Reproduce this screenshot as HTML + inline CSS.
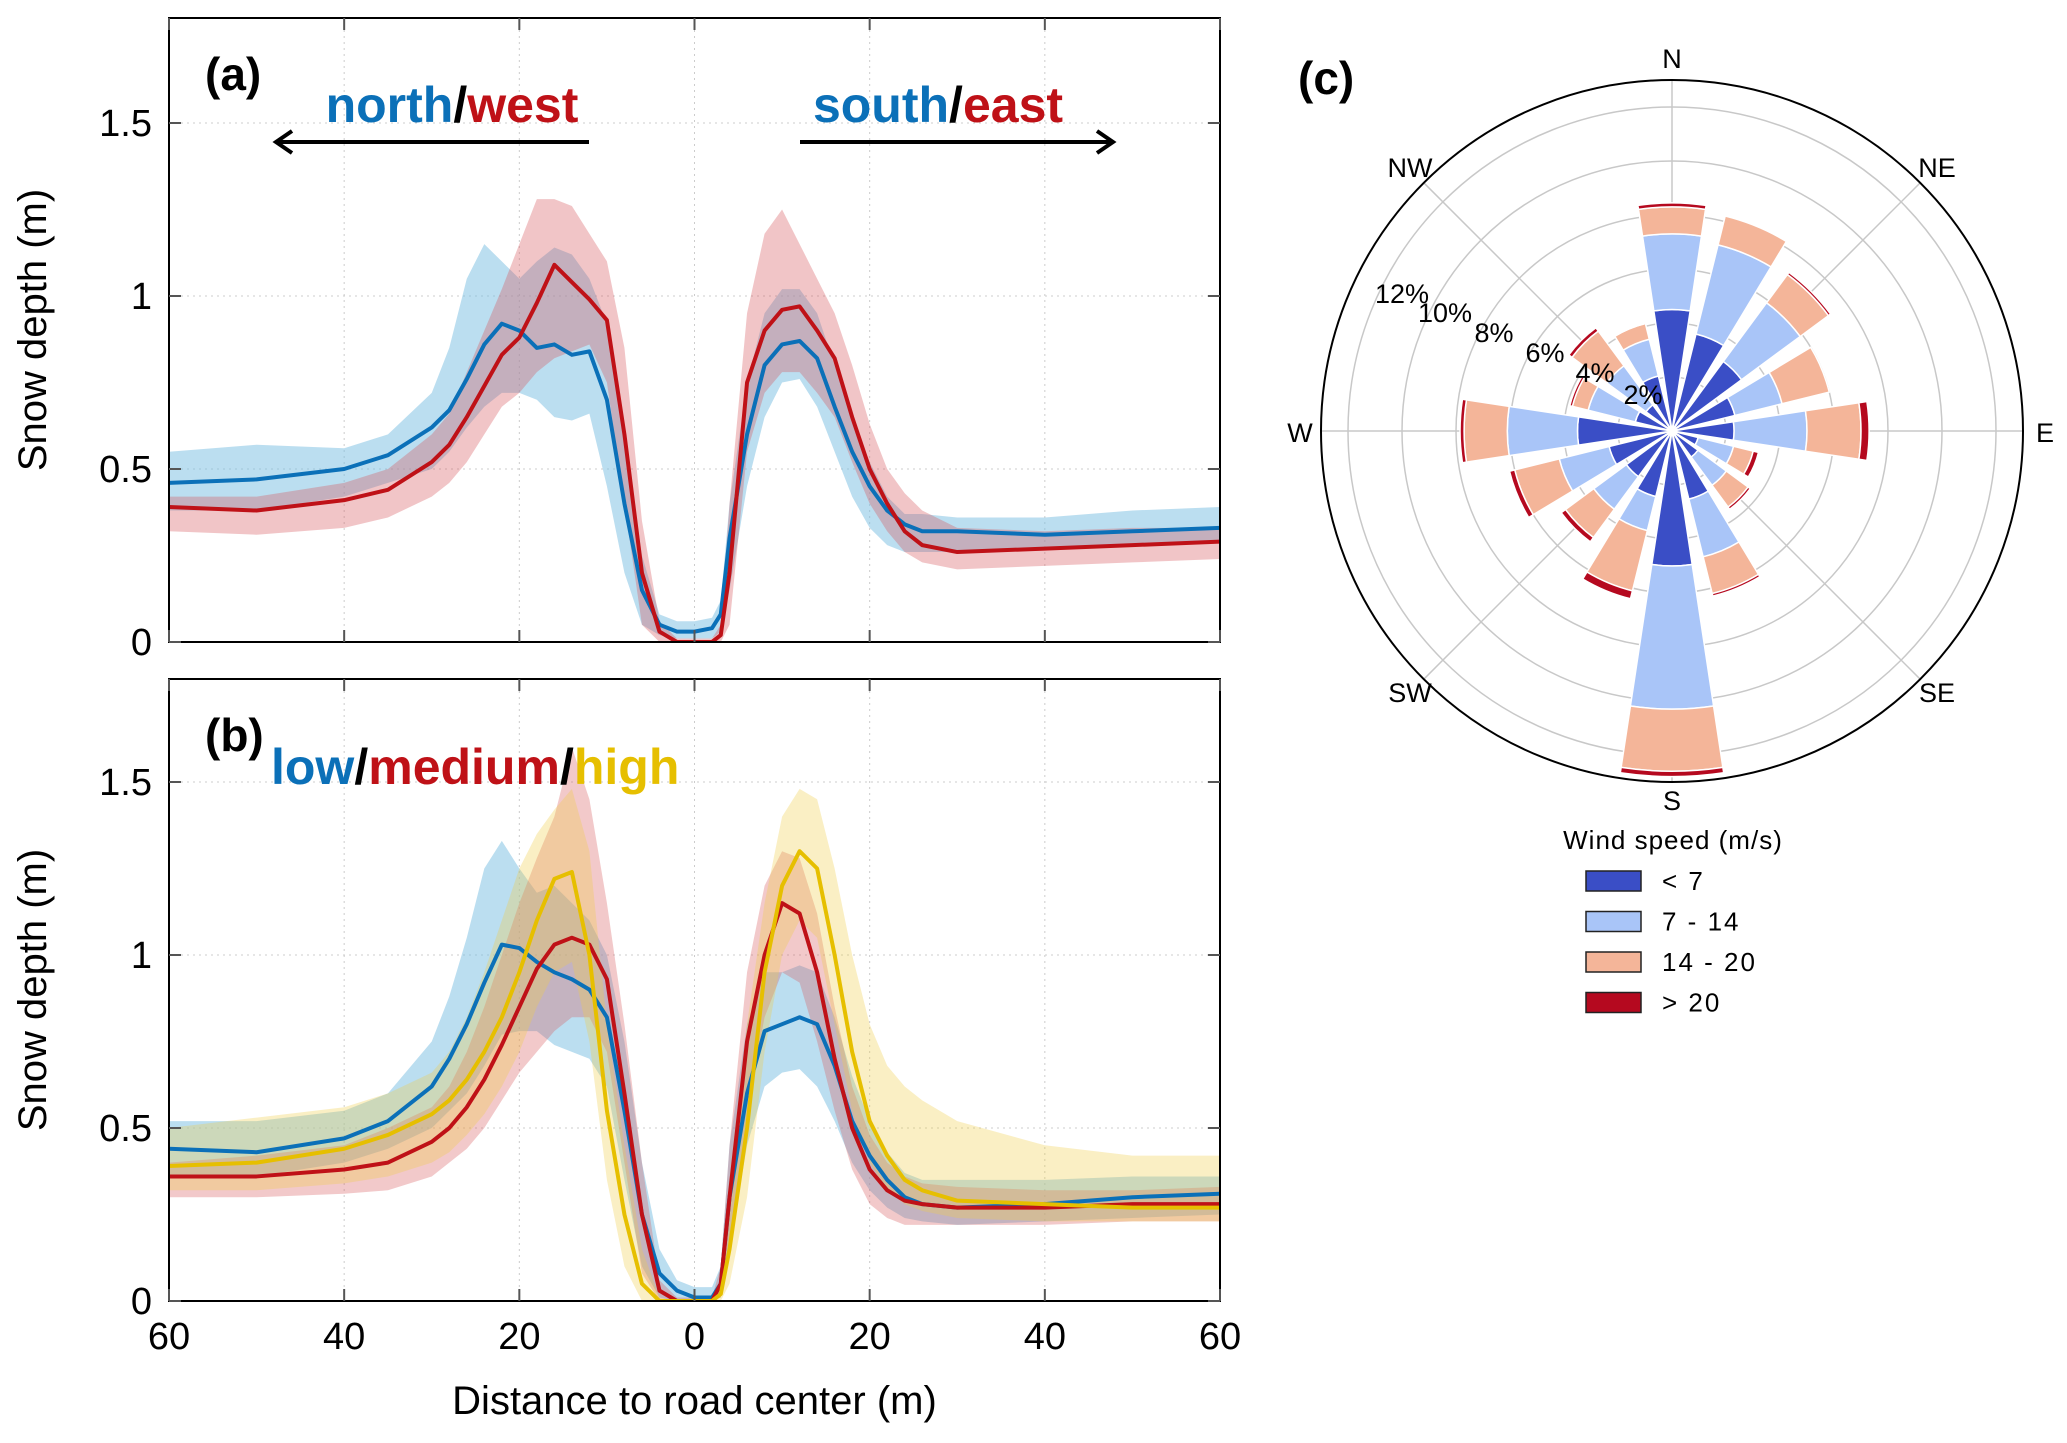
<!DOCTYPE html>
<html><head><meta charset="utf-8"><style>
html,body{margin:0;padding:0;background:#fff}
svg{display:block}
text{font-family:"Liberation Sans",sans-serif}
</style></head><body>
<svg id="fig" width="2067" height="1443" viewBox="0 0 2067 1443" xmlns="http://www.w3.org/2000/svg">
<g id="pa"></g>
<g id="pb"></g>
<g id="pc"></g>
</svg>
<script>
// ---------- Profile data ----------
const distX = [-60,-50,-40,-35,-30,-28,-26,-24,-22,-20,-18,-16,-14,-12,-10,-8,-6,-4,-2,0,2,3,4,6,8,10,12,14,16,18,20,22,24,26,30,40,50,60];
const yTicks = [0,0.5,1,1.5];
const yTickLabels = ["0","0.5","1","1.5"];
const xTicks = [-60,-40,-20,0,20,40,60];
const xTickLabels = ["60","40","20","0","20","40","60"];

const aBlueMean = [0.46,0.47,0.50,0.54,0.62,0.67,0.76,0.86,0.92,0.90,0.85,0.86,0.83,0.84,0.70,0.40,0.15,0.05,0.03,0.03,0.04,0.08,0.30,0.60,0.80,0.86,0.87,0.82,0.68,0.55,0.45,0.38,0.34,0.32,0.32,0.31,0.32,0.33];
const aBlueHi   = [0.55,0.57,0.56,0.60,0.72,0.85,1.05,1.15,1.10,1.05,1.10,1.14,1.12,1.05,0.92,0.60,0.25,0.08,0.06,0.06,0.07,0.12,0.40,0.75,0.95,1.02,1.02,0.95,0.80,0.65,0.52,0.42,0.37,0.37,0.36,0.36,0.38,0.39];
const aBlueLo   = [0.38,0.38,0.42,0.46,0.50,0.55,0.62,0.68,0.72,0.72,0.70,0.65,0.64,0.66,0.45,0.20,0.05,0.02,0.01,0.01,0.01,0.03,0.15,0.45,0.65,0.75,0.76,0.68,0.55,0.42,0.33,0.28,0.26,0.26,0.26,0.27,0.28,0.29];
const aRedMean  = [0.39,0.38,0.41,0.44,0.52,0.57,0.65,0.74,0.83,0.88,0.98,1.09,1.04,0.99,0.93,0.60,0.20,0.03,0.00,0.00,0.00,0.02,0.20,0.75,0.90,0.96,0.97,0.90,0.82,0.65,0.50,0.40,0.32,0.28,0.26,0.27,0.28,0.29];
const aRedHi    = [0.42,0.42,0.46,0.50,0.60,0.66,0.78,0.90,1.02,1.15,1.28,1.28,1.26,1.18,1.10,0.85,0.35,0.06,0.01,0.01,0.01,0.05,0.40,0.95,1.18,1.25,1.15,1.05,0.95,0.80,0.63,0.50,0.43,0.38,0.33,0.32,0.33,0.33];
const aRedLo    = [0.32,0.31,0.33,0.36,0.42,0.46,0.52,0.60,0.68,0.72,0.78,0.82,0.84,0.86,0.75,0.40,0.05,0.00,0.00,0.00,0.00,0.00,0.05,0.55,0.72,0.78,0.78,0.72,0.65,0.52,0.40,0.32,0.26,0.23,0.21,0.22,0.23,0.24];

const bLowMean  = [0.44,0.43,0.47,0.52,0.62,0.70,0.80,0.92,1.03,1.02,0.98,0.95,0.93,0.90,0.82,0.55,0.25,0.08,0.03,0.01,0.01,0.05,0.30,0.60,0.78,0.80,0.82,0.80,0.68,0.52,0.42,0.35,0.30,0.28,0.27,0.28,0.30,0.31];
const bLowHi    = [0.52,0.52,0.55,0.60,0.75,0.88,1.05,1.25,1.33,1.25,1.18,1.20,1.15,1.10,1.00,0.75,0.40,0.15,0.06,0.04,0.04,0.10,0.45,0.80,0.95,0.95,0.97,0.95,0.82,0.65,0.52,0.43,0.37,0.35,0.35,0.35,0.36,0.36];
const bLowLo    = [0.36,0.36,0.40,0.44,0.50,0.55,0.60,0.68,0.77,0.78,0.78,0.74,0.72,0.70,0.62,0.35,0.10,0.01,0.00,0.00,0.00,0.01,0.15,0.45,0.62,0.66,0.67,0.62,0.52,0.40,0.32,0.27,0.24,0.23,0.22,0.23,0.24,0.25];
const bMedMean  = [0.36,0.36,0.38,0.40,0.46,0.50,0.56,0.64,0.74,0.85,0.96,1.03,1.05,1.03,0.93,0.60,0.25,0.03,0.00,0.00,0.00,0.05,0.30,0.75,1.00,1.15,1.12,0.95,0.70,0.50,0.38,0.32,0.29,0.28,0.27,0.27,0.28,0.28];
const bMedHi    = [0.40,0.42,0.45,0.50,0.56,0.62,0.72,0.85,1.00,1.15,1.28,1.40,1.60,1.45,1.15,0.80,0.40,0.06,0.01,0.01,0.01,0.10,0.45,0.95,1.20,1.30,1.28,1.12,0.85,0.62,0.48,0.40,0.36,0.34,0.33,0.32,0.32,0.33];
const bMedLo    = [0.30,0.30,0.31,0.32,0.36,0.40,0.44,0.50,0.58,0.66,0.72,0.78,0.82,0.82,0.72,0.40,0.08,0.00,0.00,0.00,0.00,0.01,0.15,0.55,0.82,0.95,0.92,0.75,0.55,0.38,0.28,0.24,0.22,0.22,0.22,0.22,0.23,0.23];
const bHighMean = [0.39,0.40,0.44,0.48,0.54,0.58,0.64,0.72,0.82,0.95,1.10,1.22,1.24,1.00,0.55,0.25,0.05,0.00,0.00,0.00,0.00,0.02,0.15,0.50,0.95,1.20,1.30,1.25,1.00,0.72,0.52,0.42,0.35,0.32,0.29,0.28,0.27,0.27];
const bHighHi   = [0.50,0.53,0.56,0.60,0.66,0.72,0.82,0.95,1.10,1.25,1.35,1.42,1.48,1.30,0.80,0.45,0.15,0.01,0.00,0.00,0.00,0.05,0.35,0.80,1.15,1.40,1.48,1.45,1.25,1.00,0.80,0.68,0.62,0.58,0.52,0.45,0.42,0.42];
const bHighLo   = [0.32,0.32,0.34,0.36,0.40,0.43,0.48,0.54,0.62,0.72,0.85,0.95,0.98,0.75,0.35,0.10,0.00,0.00,0.00,0.00,0.00,0.00,0.05,0.30,0.72,1.00,1.10,1.05,0.80,0.55,0.40,0.32,0.28,0.26,0.24,0.23,0.23,0.23];

// ---------- Wind rose data ----------
const roseDirs = ["N","NNE","NE","ENE","E","ESE","SE","SSE","S","SSW","SW","WSW","W","WNW","NW","NNW"];
const binLt7   = [4.5,3.7,3.2,2.4,2.3,1.0,1.2,2.6,5.0,2.5,2.1,2.4,3.5,1.4,1.2,2.1];
const bin7to14 = [2.8,3.4,2.7,1.8,2.7,1.35,1.3,2.2,5.3,1.3,1.5,1.9,2.6,1.8,1.8,1.4];
const bin14to20= [1.0,1.1,1.3,1.8,2.0,0.75,1.0,1.4,2.3,2.3,1.3,1.7,1.6,0.6,1.6,0.6];
const binGt20  = [0.15,0,0.1,0,0.3,0.2,0.1,0.1,0.2,0.3,0.2,0.2,0.15,0.1,0.15,0.05];
const ringPct  = [2,4,6,8,10,12];
const binLabels = ["< 7","7 - 14","14 - 20","> 20"];

const NS="http://www.w3.org/2000/svg";
function mk(parent,tag,attrs,txt){const e=document.createElementNS(NS,tag);for(const k in attrs)e.setAttribute(k,attrs[k]);if(txt!==undefined)e.textContent=txt;parent.appendChild(e);return e;}

const X0=169,X1=1220;
function sx(v){return X0+(v+60)/120*(X1-X0);}

function panel(g,top,y0,label,series){
  const pxPerM=346;
  const sy=v=>y0-v*pxPerM;
  const clip='clip'+label;
  const cp=mk(g,'clipPath',{id:clip});
  mk(cp,'rect',{x:X0,y:top,width:X1-X0,height:y0-top});
  xTicks.forEach((t,i)=>{if(i>0&&i<xTicks.length-1){const l=mk(g,'line',{x1:sx(t),x2:sx(t),y1:top,y2:y0,stroke:'#ccc','stroke-width':1,'stroke-dasharray':'2,4'});
    
    }});
  yTicks.forEach((t,i)=>{if(i>0){const l=mk(g,'line',{x1:X0,x2:X1,y1:sy(t),y2:sy(t),stroke:'#ccc','stroke-width':1,'stroke-dasharray':'2,4'});
    
    }});
  const sg=mk(g,'g',{'clip-path':'url(#'+clip+')'});
  series.forEach(s=>{
    let d='M'+distX.map((x,i)=>sx(x)+','+sy(s.hi[i])).join('L');
    for(let i=distX.length-1;i>=0;i--)d+='L'+sx(distX[i])+','+sy(s.lo[i]);
    const b=mk(sg,'path',{d:d+'Z',fill:s.band,stroke:'none'});
    
    
  });
  series.forEach(s=>{
    const l=mk(sg,'path',{d:'M'+distX.map((x,i)=>sx(x)+','+sy(s.mean[i])).join('L'),fill:'none',stroke:s.color,'stroke-width':4,'stroke-linejoin':'round'});
    
    
  });
  const fr=mk(g,'rect',{x:X0,y:top,width:X1-X0,height:y0-top,fill:'none',stroke:'#000','stroke-width':2});
  
  
  xTicks.forEach((t,i)=>{
    mk(g,'line',{x1:sx(t),x2:sx(t),y1:y0,y2:y0-12,stroke:'#555','stroke-width':2});
    mk(g,'line',{x1:sx(t),x2:sx(t),y1:top,y2:top+12,stroke:'#555','stroke-width':2});
  });
  yTicks.forEach((t,i)=>{
    mk(g,'line',{x1:X0,x2:X0+12,y1:sy(t),y2:sy(t),stroke:'#555','stroke-width':2});
    mk(g,'line',{x1:X1,x2:X1-12,y1:sy(t),y2:sy(t),stroke:'#555','stroke-width':2});
    const tl=mk(g,'text',{x:152,y:sy(t)+13,'text-anchor':'end','font-size':38},yTickLabels[i]);
    
    
  });
  const yt=mk(g,'text',{x:0,y:0,transform:'translate(46,'+((top+y0)/2)+') rotate(-90)','text-anchor':'middle','font-size':40},'Snow depth (m)');
  
  
  const pl=mk(g,'text',{x:205,y:top+72,'font-size':46,'font-weight':'bold'},'('+label+')');
  
  
  return sy;
}

const BLUE='#0b70b8',RED='#bf1117',YEL='#e6bf00';
const pa=document.getElementById('pa');
panel(pa,18,642,'a',[
  {name:'north-south',mean:aBlueMean,hi:aBlueHi,lo:aBlueLo,color:BLUE,band:'rgba(120,190,225,0.5)'},
  {name:'west-east',mean:aRedMean,hi:aRedHi,lo:aRedLo,color:RED,band:'rgba(215,90,95,0.35)'}
]);
let t=mk(pa,'text',{x:452,y:122,'text-anchor':'middle','font-size':50,'font-weight':'bold'});


mk(t,'tspan',{fill:BLUE},'north');mk(t,'tspan',{fill:'#000'},'/');mk(t,'tspan',{fill:RED},'west');
t=mk(pa,'text',{x:938,y:122,'text-anchor':'middle','font-size':50,'font-weight':'bold'});


mk(t,'tspan',{fill:BLUE},'south');mk(t,'tspan',{fill:'#000'},'/');mk(t,'tspan',{fill:RED},'east');
let ar=mk(pa,'path',{d:'M589,142 L278,142 M292,131 L276,142 L292,153',stroke:'#000','stroke-width':4,fill:'none'});


ar=mk(pa,'path',{d:'M800,142 L1111,142 M1097,131 L1113,142 L1097,153',stroke:'#000','stroke-width':4,fill:'none'});



const pb=document.getElementById('pb');
panel(pb,679,1301,'b',[
  {name:'low',mean:bLowMean,hi:bLowHi,lo:bLowLo,color:BLUE,band:'rgba(120,190,225,0.5)'},
  {name:'medium',mean:bMedMean,hi:bMedHi,lo:bMedLo,color:RED,band:'rgba(215,90,95,0.33)'},
  {name:'high',mean:bHighMean,hi:bHighHi,lo:bHighLo,color:YEL,band:'rgba(240,205,70,0.32)'}
]);
t=mk(pb,'text',{x:271,y:784,'font-size':50,'font-weight':'bold'});


mk(t,'tspan',{fill:BLUE},'low');mk(t,'tspan',{fill:'#000'},'/');mk(t,'tspan',{fill:RED},'medium');mk(t,'tspan',{fill:'#000'},'/');mk(t,'tspan',{fill:YEL},'high');
xTicks.forEach((v,i)=>{
  const tl=mk(pb,'text',{x:sx(v),y:1349,'text-anchor':'middle','font-size':38},xTickLabels[i]);
  
  
});
t=mk(pb,'text',{x:(X0+X1)/2,y:1414,'text-anchor':'middle','font-size':40},'Distance to road center (m)');



// ---------- Wind rose ----------
const pc=document.getElementById('pc');
const CX=1672,CY=431,PPX=27,RMAX=13*27;
t=mk(pc,'text',{x:1298,y:94,'font-size':46,'font-weight':'bold'},'(c)');


ringPct.forEach(p=>{const c=mk(pc,'circle',{cx:CX,cy:CY,r:p*PPX,fill:'none',stroke:'#c8c8c8','stroke-width':1.5});
  
  });
for(let k=0;k<8;k++){const a=k*Math.PI/4;const l=mk(pc,'line',{x1:CX,y1:CY,x2:CX+RMAX*Math.sin(a),y2:CY-RMAX*Math.cos(a),stroke:'#c8c8c8','stroke-width':1.5});
  
  }
function pt(r,a){return [CX+r*Math.sin(a),CY-r*Math.cos(a)];}
function sector(r0,r1,ac,hw){
  const a0=ac-hw,a1=ac+hw;const p1=pt(r0,a0),p2=pt(r1,a0),p3=pt(r1,a1),p4=pt(r0,a1);
  return `M${p1}L${p2}A${r1},${r1} 0 0 1 ${p3}L${p4}`+(r0>0?`A${r0},${r0} 0 0 0 ${p1}`:'')+'Z';
}
const binColors=['#3a4ec6','#a9c5f8','#f4b599','#b5091f'];
const bins=[binLt7,bin7to14,bin14to20,binGt20];
roseDirs.forEach((dn,i)=>{
  const ac=i*Math.PI/8,hw=8.6*Math.PI/180;let cum=0;
  bins.forEach((arr,b)=>{
    const v=arr[i];if(v<=0)return;
    const p=mk(pc,'path',{d:sector(cum*PPX,(cum+v)*PPX,ac,hw),fill:binColors[b],stroke:'#fff','stroke-width':1.5});
    
    
    cum+=v;
  });
});
const oc=mk(pc,'circle',{cx:CX,cy:CY,r:RMAX,fill:'none',stroke:'#000','stroke-width':2});


const compass=[['N',CX,68],['S',CX,810],['E',2045,442],['W',1300,442],['NW',1410,177],['NE',1937,177],['SW',1410,702],['SE',1937,702]];
compass.forEach(c=>{const e=mk(pc,'text',{x:c[1],y:c[2],'text-anchor':'middle','font-size':27},c[0]);
  
  });
const pctPos=[[1643,404],[1595,382],[1545,362],[1494,342],[1445,322],[1402,303]];
ringPct.forEach((p,i)=>{const e=mk(pc,'text',{x:pctPos[i][0],y:pctPos[i][1],'text-anchor':'middle','font-size':27},p+'%');
  
  });
t=mk(pc,'text',{x:1673,y:849,'text-anchor':'middle','font-size':26,'letter-spacing':'1'},'Wind speed (m/s)');


binLabels.forEach((lb,i)=>{
  const y=881+i*40.5;
  const r=mk(pc,'rect',{x:1586,y:y-10,width:55,height:20,fill:binColors[i],stroke:'#222','stroke-width':1.5});
  
  
  const e=mk(pc,'text',{x:1662,y:y+9,'font-size':26,'letter-spacing':'2'},lb);
  
  
});
</script>
</body></html>
